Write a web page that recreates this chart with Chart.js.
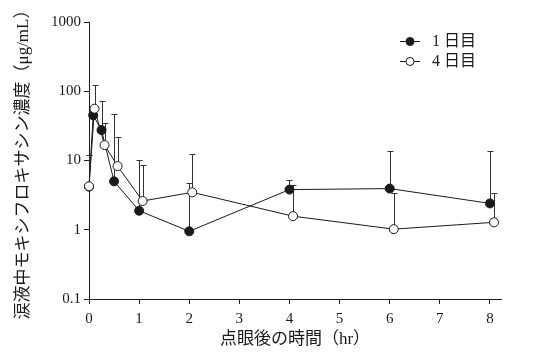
<!DOCTYPE html>
<html>
<head>
<meta charset="utf-8">
<script src="https://cdn.jsdelivr.net/npm/chart.js@4.4.1/dist/chart.umd.min.js"></script>
<style>
  html, body { margin: 0; padding: 0; background: #fff; }
  #wrap { width: 536px; height: 354px; }
</style>
</head>
<body>
<div id="wrap"><canvas id="chart"></canvas></div>
<script>
// 1日目 (filled)
const day1Hours = [0, 0.083, 0.25, 0.5, 1, 2, 4, 6, 8];
const day1Conc = [4.2, 45, 27.5, 5.0, 1.88, 0.95, 3.8, 3.93, 2.4];
const day1Upper = [11.9, null, 72, 47, 10.1, 4.8, 5.2, 13.8, 13.6];

// 4日目 (open), drawn slightly shifted right as in the figure
const day4Hours = [0, 0.11, 0.31, 0.57, 1.07, 2.06, 4.07, 6.08, 8.08];
const day4Conc = [4.24, 56, 16.7, 8.3, 2.6, 3.47, 1.57, 1.02, 1.28];
const day4Upper = [null, 124, 34.7, 21.7, 8.5, 12.6, 4.5, 3.4, 3.44];

const xTicks = [0, 1, 2, 3, 4, 5, 6, 7, 8];
const yTicks = [0.1, 1, 10, 100, 1000];
const legendLabels = ["1 日目", "4 日目"];

const FONT = "'Liberation Serif', 'Noto Sans CJK JP', serif";
const INK = "#1a1a1a";

const toPts = (xs, ys) => xs.map((x, i) => ({ x, y: ys[i] }));

const errorBars = {
  id: "errorBars",
  beforeDatasetsDraw(c) {
    const ctx = c.ctx;
    const xs = c.scales.x, ys = c.scales.y;
    const sets = [
      [day1Hours, day1Conc, day1Upper],
      [day4Hours, day4Conc, day4Upper],
    ];
    ctx.save();
    ctx.strokeStyle = "#333";
    ctx.lineWidth = 1;
    sets.forEach(([hx, hy, up]) => {
      hx.forEach((h, i) => {
        if (up[i] == null) return;
        const px = Math.round(xs.getPixelForValue(h)) + 0.5;
        const y0 = ys.getPixelForValue(hy[i]);
        const y1 = Math.round(ys.getPixelForValue(up[i])) + 0.5;
        ctx.beginPath();
        ctx.moveTo(px, y0);
        ctx.lineTo(px, y1);
        ctx.moveTo(px - 3, y1);
        ctx.lineTo(px + 3, y1);
        ctx.stroke();
      });
    });
    ctx.restore();
  },
};

const legendBox = {
  id: "legendBox",
  afterDraw(c) {
    const ctx = c.ctx;
    ctx.save();
    ctx.font = "16px " + FONT;
    ctx.textBaseline = "middle";
    legendLabels.forEach((txt, i) => {
      const y = 41 + i * 20;
      ctx.strokeStyle = INK;
      ctx.lineWidth = 1;
      ctx.beginPath();
      ctx.moveTo(400, y + 0.5);
      ctx.lineTo(420, y + 0.5);
      ctx.stroke();
      ctx.beginPath();
      ctx.arc(410, y + 0.5, 4, 0, Math.PI * 2);
      ctx.fillStyle = i === 0 ? INK : "#fff";
      ctx.fill();
      ctx.stroke();
      ctx.fillStyle = INK;
      ctx.fillText(txt, 432, y + 1);
    });
    ctx.restore();
  },
};

new Chart(document.getElementById("chart"), {
  type: "line",
  data: {
    datasets: [
      {
        label: "4 日目",
        data: toPts(day4Hours, day4Conc),
        borderColor: INK,
        borderWidth: 1,
        pointRadius: 4.5,
        pointBackgroundColor: "#fff",
        pointBorderColor: INK,
        pointBorderWidth: 1,
        tension: 0,
        clip: false,
        order: 0,
      },
      {
        label: "1 日目",
        data: toPts(day1Hours, day1Conc),
        borderColor: INK,
        borderWidth: 1,
        pointRadius: 4.5,
        pointBackgroundColor: INK,
        pointBorderColor: INK,
        pointBorderWidth: 1,
        tension: 0,
        clip: false,
        order: 1,
      },
    ],
  },
  options: {
    responsive: true,
    maintainAspectRatio: false,
    animation: false,
    layout: { padding: { left: 13, right: 35, top: 22, bottom: 4 } },
    plugins: { legend: { display: false }, tooltip: { enabled: false } },
    scales: {
      x: {
        type: "linear",
        min: 0,
        max: 8.22,
        afterBuildTicks: (s) => { s.ticks = xTicks.map((v) => ({ value: v })); },
        afterFit: (s) => { s.height = 51; },
        grid: { drawOnChartArea: false, drawTicks: true, tickLength: 5, color: INK },
        border: { display: true, color: INK, width: 1 },
        ticks: { color: INK, font: { family: FONT, size: 15 }, padding: 6, maxRotation: 0 },
        title: {
          display: true,
          text: "点眼後の時間（hr）",
          color: INK,
          font: { family: FONT, size: 17 },
          padding: { top: 0, bottom: 0 },
        },
      },
      y: {
        type: "logarithmic",
        min: 0.1,
        max: 1000,
        afterBuildTicks: (s) => { s.ticks = yTicks.map((v) => ({ value: v })); },
        afterFit: (s) => { s.width = 76; },
        grid: { drawOnChartArea: false, drawTicks: true, tickLength: 5, color: INK },
        border: { display: true, color: INK, width: 1 },
        ticks: {
          color: INK,
          font: { family: FONT, size: 15 },
          padding: 3,
          callback: (v) => String(v),
        },
        title: {
          display: true,
          text: "涙液中モキシフロキサシン濃度（μg/mL）",
          color: INK,
          font: { family: FONT, size: 17 },
          padding: { top: 0, bottom: 6 },
        },
      },
    },
  },
  plugins: [errorBars, legendBox],
});
</script>
</body>
</html>
